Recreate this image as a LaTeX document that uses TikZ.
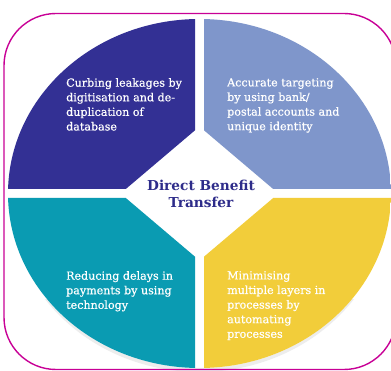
\documentclass[tikz,border=0pt]{standalone}
\usepackage{fontspec}
\setmainfont{DejaVu Serif}
\newfontfamily\bodyserif[FakeBold=0.6]{DejaVu Serif}
\definecolor{qnavy}{RGB}{51,48,148}
\definecolor{qsky}{RGB}{127,150,203}
\definecolor{qteal}{RGB}{10,155,178}
\definecolor{qgold}{RGB}{242,205,58}
\definecolor{frame}{RGB}{200,0,150}
\definecolor{titleblue}{RGB}{46,44,138}
\tikzset{
  quadtext/.style={text=white, anchor=north west, align=left, inner sep=0pt,
    font=\bodyserif\fontsize{11.1}{14.6}\selectfont},
  titletext/.style={text=titleblue, align=center, inner sep=0pt,
    font=\bfseries\fontsize{13.7}{17}\selectfont},
  border/.style={draw=frame, line width=1.4pt, rounded corners=52pt}
}
\begin{document}
\begin{tikzpicture}[x=1pt,y=-1pt]
\useasboundingbox (0,0) rectangle (391,371);
\fill[white] (0,0) rectangle (391,371);
% faint shadow along the lower rim of the disc
\begin{scope}
  \clip (0,300) rectangle (391,371);
  \fill[gray, opacity=0.14, even odd rule]
    (199.5,197.5) ellipse [x radius=190pt, y radius=174.5pt]
    (199.5,193.5) ellipse [x radius=191.5pt, y radius=174.5pt];
\end{scope}
% four quadrants of the disc, each cut by the central diamond
\begin{scope}
  \clip (199.5,193.5) ellipse [x radius=191.5pt, y radius=174.5pt];
  \fill[qnavy] (0,0) -- (195,0) -- (195,130.3) -- (125.8,189) -- (0,189) -- cycle;
  \fill[qsky] (204,0) -- (400,0) -- (400,189) -- (273.2,189) -- (204,130.3) -- cycle;
  \fill[qteal] (0,198) -- (125.8,198) -- (195,256.7) -- (195,380) -- (0,380) -- cycle;
  \fill[qgold] (400,198) -- (273.2,198) -- (204,256.7) -- (204,380) -- (400,380) -- cycle;
\end{scope}
% rounded frame
\draw[border] (4,13.5) rectangle (396,369.5);
% labels
\node[quadtext] (leak) at (66,78) {Curbing leakages by\\digitisation and de-\\duplication of\\database};
\node[quadtext] (target) at (227,78) {Accurate targeting\\by using bank/\\postal accounts and\\unique identity};
\node[quadtext] (delay) at (66,271) {Reducing delays in\\payments by using\\technology};
\node[quadtext] (layers) at (227,271) {Minimising\\multiple layers in\\processes by\\automating\\processes};
\node[titletext] (dbt) at (201,194) {Direct Benefit\\Transfer};
\end{tikzpicture}
\end{document}
